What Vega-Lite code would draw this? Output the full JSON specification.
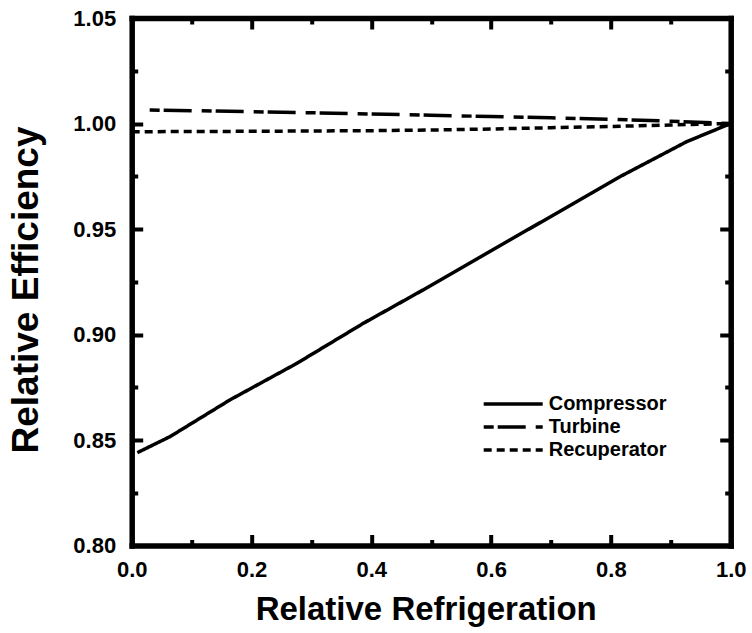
{
  "$schema": "https://vega.github.io/schema/vega-lite/v6.json",
  "width": 599,
  "height": 527.5,
  "autosize": "none",
  "padding": {"left": 131.7, "top": 18, "right": 21.3, "bottom": 87.5},
  "background": "white",
  "config": {
    "view": {"stroke": null},
    "font": "Liberation Sans",
    "axis": {
      "grid": false,
      "domainColor": "black",
      "domainWidth": 5.5,
      "domainCap": "square",
      "tickColor": "black",
      "tickWidth": 4,
      "zindex": 1,
      "labelFont": "Liberation Sans",
      "labelFontWeight": "bold",
      "labelFontSize": 22,
      "labelColor": "black",
      "labelFlush": false,
      "titleFont": "Liberation Sans",
      "titleFontWeight": "bold",
      "titleColor": "black"
    }
  },
  "data": {
    "values": [
      {"series": "Compressor", "x": 0.0094, "v": 0.8440},
      {"series": "Compressor", "x": 0.064, "v": 0.8516},
      {"series": "Compressor", "x": 0.164, "v": 0.8690},
      {"series": "Compressor", "x": 0.2755, "v": 0.8863},
      {"series": "Compressor", "x": 0.3867, "v": 0.9053},
      {"series": "Compressor", "x": 0.4813, "v": 0.9203},
      {"series": "Compressor", "x": 0.5927, "v": 0.9385},
      {"series": "Compressor", "x": 0.7039, "v": 0.9566},
      {"series": "Compressor", "x": 0.8152, "v": 0.9748},
      {"series": "Compressor", "x": 0.9266, "v": 0.9914},
      {"series": "Compressor", "x": 1.0, "v": 1.0},
      {"series": "Turbine", "x": 0.03, "v": 1.0064},
      {"series": "Turbine", "x": 0.1, "v": 1.0061},
      {"series": "Turbine", "x": 0.2, "v": 1.0056},
      {"series": "Turbine", "x": 0.3, "v": 1.0051},
      {"series": "Turbine", "x": 0.4, "v": 1.0045},
      {"series": "Turbine", "x": 0.5, "v": 1.0039},
      {"series": "Turbine", "x": 0.6, "v": 1.0033},
      {"series": "Turbine", "x": 0.7, "v": 1.0027},
      {"series": "Turbine", "x": 0.8, "v": 1.0020},
      {"series": "Turbine", "x": 0.9, "v": 1.0011},
      {"series": "Turbine", "x": 1.0, "v": 1.0},
      {"series": "Recuperator", "x": 0.0, "v": 0.9961},
      {"series": "Recuperator", "x": 0.2, "v": 0.9963},
      {"series": "Recuperator", "x": 0.4, "v": 0.9966},
      {"series": "Recuperator", "x": 0.5, "v": 0.9969},
      {"series": "Recuperator", "x": 0.6, "v": 0.9974},
      {"series": "Recuperator", "x": 0.7, "v": 0.9980},
      {"series": "Recuperator", "x": 0.8, "v": 0.9986},
      {"series": "Recuperator", "x": 0.9, "v": 0.9993},
      {"series": "Recuperator", "x": 1.0, "v": 1.0}
    ]
  },
  "layer": [
    {
      "mark": {"type": "line", "color": "black", "strokeWidth": 3.5, "strokeCap": "butt", "clip": true},
      "encoding": {
        "x": {
          "field": "x", "type": "quantitative",
          "scale": {"domain": [0, 1], "nice": false, "zero": false},
          "axis": {
            "orient": "bottom",
            "values": [0, 0.2, 0.4, 0.6, 0.8, 1.0],
            "format": ".1f",
            "domain": true,
            "ticks": false,
            "labelPadding": 14,
            "title": "Relative Refrigeration",
            "titleFontSize": 33,
            "titleX": 294,
            "titleY": 74,
            "titleBaseline": "alphabetic"
          }
        },
        "y": {
          "field": "v", "type": "quantitative",
          "scale": {"domain": [0.8, 1.05], "nice": false, "zero": false},
          "axis": {
            "orient": "left",
            "values": [0.8, 0.85, 0.9, 0.95, 1.0, 1.05],
            "format": ".2f",
            "domain": true,
            "ticks": false,
            "labelPadding": 16,
            "title": "Relative Efficiency",
            "titleFontSize": 37,
            "titleX": -94.7,
            "titleY": 271.5,
            "titleBaseline": "alphabetic"
          }
        },
        "strokeDash": {
          "field": "series", "type": "nominal",
          "scale": {
            "domain": ["Compressor", "Turbine", "Recuperator"],
            "range": [[1, 0], [10, 4, 28, 10], [8, 5]]
          },
          "legend": {
            "orient": "none",
            "legendX": 350,
            "legendY": 374.5,
            "title": null,
            "symbolType": "stroke",
            "symbolSize": 3481,
            "symbolStrokeWidth": 3.5,
            "symbolStrokeColor": "black",
            "labelFont": "Liberation Sans",
            "labelFontSize": 20,
            "labelFontWeight": "bold",
            "labelColor": "black",
            "labelOffset": 4,
            "clipHeight": 23,
            "rowPadding": 0
          }
        }
      }
    },
    {
      "mark": {"type": "point", "opacity": 0},
      "encoding": {
        "x": {
          "field": "x", "type": "quantitative",
          "scale": {"domain": [0, 1], "nice": false, "zero": false},
          "axis": {"orient": "top", "values": [0, 0.2, 0.4, 0.6, 0.8, 1.0], "labels": false, "domain": true, "ticks": false, "title": null}
        },
        "y": {
          "field": "v", "type": "quantitative",
          "scale": {"domain": [0.8, 1.05], "nice": false, "zero": false},
          "axis": {"orient": "right", "values": [0.8, 0.85, 0.9, 0.95, 1.0, 1.05], "labels": false, "domain": true, "ticks": false, "title": null}
        }
      }
    },
    {
      "mark": {"type": "point", "opacity": 0},
      "encoding": {
        "x": {
          "field": "x", "type": "quantitative",
          "scale": {"domain": [0, 1], "nice": false, "zero": false},
          "axis": {"orient": "top", "offset": -527.5, "values": [0.2, 0.4, 0.6, 0.8], "labels": false, "domain": false, "ticks": true, "tickSize": 11, "title": null}
        },
        "y": {
          "field": "v", "type": "quantitative",
          "scale": {"domain": [0.8, 1.05], "nice": false, "zero": false},
          "axis": {"orient": "right", "offset": -599, "values": [0.85, 0.9, 0.95, 1.0], "labels": false, "domain": false, "ticks": true, "tickSize": 11, "title": null}
        }
      }
    },
    {
      "mark": {"type": "point", "opacity": 0},
      "encoding": {
        "x": {
          "field": "x", "type": "quantitative",
          "scale": {"domain": [0, 1], "nice": false, "zero": false},
          "axis": {"orient": "top", "offset": -527.5, "values": [0.1, 0.3, 0.5, 0.7, 0.9], "labels": false, "domain": false, "ticks": true, "tickSize": 6, "title": null}
        },
        "y": {
          "field": "v", "type": "quantitative",
          "scale": {"domain": [0.8, 1.05], "nice": false, "zero": false},
          "axis": {"orient": "right", "offset": -599, "values": [0.825, 0.875, 0.925, 0.975, 1.025], "labels": false, "domain": false, "ticks": true, "tickSize": 6, "title": null}
        }
      }
    },
    {
      "mark": {"type": "point", "opacity": 0},
      "encoding": {
        "x": {
          "field": "x", "type": "quantitative",
          "scale": {"domain": [0, 1], "nice": false, "zero": false},
          "axis": {"orient": "bottom", "offset": -527.5, "values": [0.2, 0.4, 0.6, 0.8], "labels": false, "domain": false, "ticks": true, "tickSize": 11, "title": null}
        },
        "y": {
          "field": "v", "type": "quantitative",
          "scale": {"domain": [0.8, 1.05], "nice": false, "zero": false},
          "axis": {"orient": "left", "offset": -599, "values": [0.85, 0.9, 0.95, 1.0], "labels": false, "domain": false, "ticks": true, "tickSize": 11, "title": null}
        }
      }
    },
    {
      "mark": {"type": "point", "opacity": 0},
      "encoding": {
        "x": {
          "field": "x", "type": "quantitative",
          "scale": {"domain": [0, 1], "nice": false, "zero": false},
          "axis": {"orient": "bottom", "offset": -527.5, "values": [0.1, 0.3, 0.5, 0.7, 0.9], "labels": false, "domain": false, "ticks": true, "tickSize": 6, "title": null}
        },
        "y": {
          "field": "v", "type": "quantitative",
          "scale": {"domain": [0.8, 1.05], "nice": false, "zero": false},
          "axis": {"orient": "left", "offset": -599, "values": [0.825, 0.875, 0.925, 0.975, 1.025], "labels": false, "domain": false, "ticks": true, "tickSize": 6, "title": null}
        }
      }
    }
  ],
  "resolve": {"axis": {"x": "independent", "y": "independent"}}
}
